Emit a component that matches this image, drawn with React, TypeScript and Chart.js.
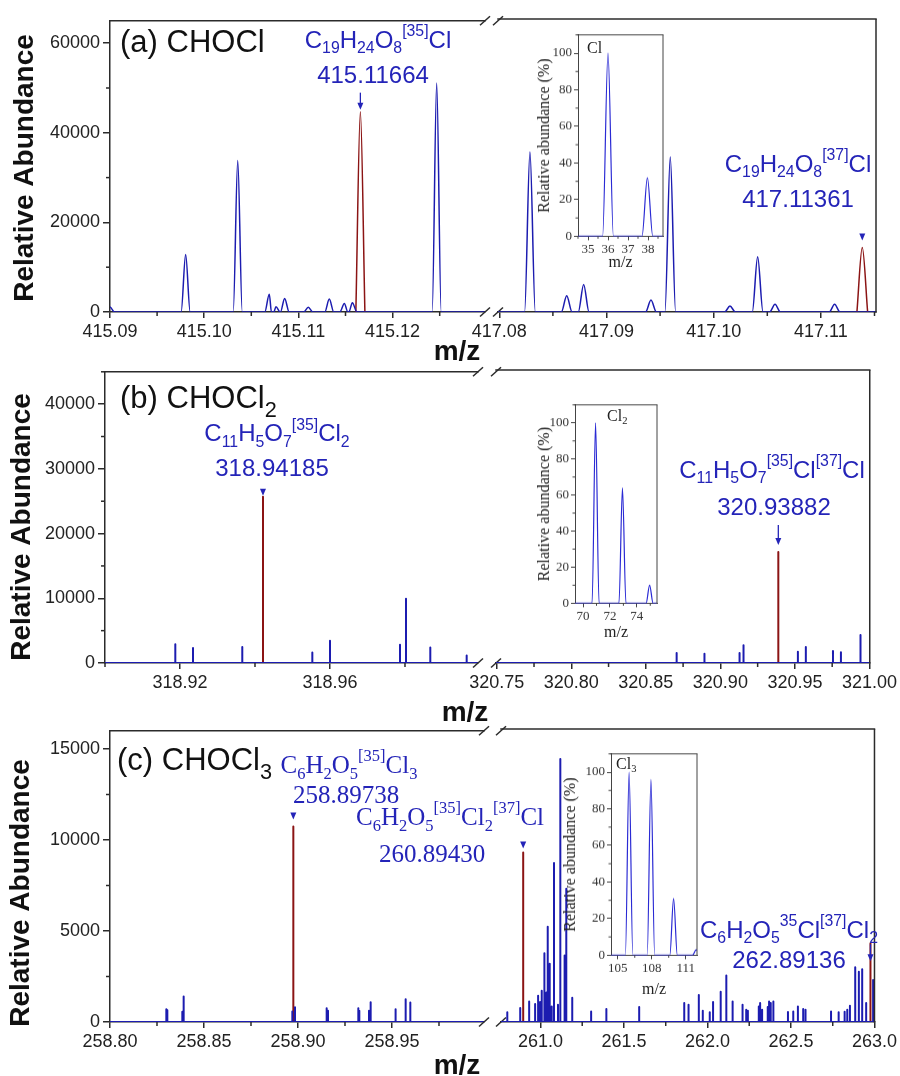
import React, { useEffect, useRef } from "react";
import { Chart, registerables } from "chart.js";
Chart.register(...registerables);

const SANS = '"Liberation Sans", Arial, Helvetica, sans-serif';
const SERIF = '"Liberation Serif", "Times New Roman", Times, serif';
const BLUE = "#1c1cb0";
const RED = "#8b1414";
const TXT_BLUE = "#2424b8";
const FRAME = "#2b2b2b";
const INSET_BLUE = "#2a2ad4";

// ---------------- DATA ----------------
// (a) CHOCl
const aLeftRange = [415.09, 415.12981];
const aLeftTicks = [415.09, 415.1, 415.11, 415.12];
const aLeftMz = [415.09, 415.09803, 415.10356, 415.10691, 415.10762, 415.10854, 415.11105, 415.11328, 415.11488, 415.11573, 415.12468];
const aLeftAb = [1100, 12840, 33800, 3985, 1180, 3026, 1033, 2878, 1919, 2066, 51140];
const aLeftTargetMz = [415.11658];
const aLeftTargetAb = [44720];
const aRightRange = [417.07988, 417.11514];
const aRightTicks = [417.08, 417.09, 417.1, 417.11];
const aRightMz = [417.08286, 417.08629, 417.08787, 417.09415, 417.09595, 417.10152, 417.1041, 417.10572, 417.11128];
const aRightAb = [35500, 3616, 6125, 2657, 34390, 1328, 12250, 1697, 1697];
const aRightTargetMz = [417.11386];
const aRightTargetAb = [14320];
const aYRange = [0, 65000];
const aYTicks = [0, 20000, 40000, 60000];

// (b) CHOCl2
const bLeftRange = [318.9, 318.99947];
const bLeftTicks = [318.92, 318.96];
const bLeftMz = [318.91875, 318.92347, 318.93661, 318.95529, 318.96, 318.97867, 318.98027, 318.98675, 318.99645];
const bLeftAb = [2916, 2300, 2455, 1637, 3427, 2813, 9923, 2404, 1176];
const bLeftTargetMz = [318.94213];
const bLeftTargetAb = [25680];
const bRightRange = [320.7495, 321.0002];
const bRightTicks = [320.75, 320.8, 320.85, 320.9, 320.95, 321.0];
const bRightMz = [320.87067, 320.88933, 320.91287, 320.91553, 320.952, 320.95733, 320.97553, 320.98087, 320.994];
const bRightAb = [1535, 1432, 1535, 2711, 1739, 2455, 1841, 1637, 4297];
const bRightTargetMz = [320.93887];
const bRightTargetAb = [17033];
const bYRange = [0, 45000];
const bYTicks = [0, 10000, 20000, 30000, 40000];

// (c) CHOCl3
const cLeftRange = [258.8, 258.99894];
const cLeftTicks = [258.8, 258.85, 258.9, 258.95];
const cLeftMz = [258.82996, 258.8305, 258.83847, 258.83918, 258.89699, 258.8984, 258.91525, 258.91596, 258.93209, 258.93262, 258.93777, 258.93865, 258.9516, 258.95213, 258.95727, 258.95975];
const cLeftAb = [707, 650, 562, 1397, 580, 816, 762, 620, 762, 620, 617, 1088, 707, 560, 1252, 1070];
const cLeftTargetMz = [258.89752];
const cLeftTargetAb = [10740];
const cRightRange = [260.7637, 263.0];
const cRightTicks = [261.0, 261.5, 262.0, 262.5, 263.0];
const cRightMz = [
  260.8014, 260.8788, 260.9323, 260.968, 260.9859, 260.9978, 261.0077, 261.0236, 261.0355, 261.0435,
  261.0554, 261.0673, 261.0811, 261.1049, 261.1189, 261.1446, 261.1546, 261.1903, 261.3034, 261.3946,
  261.5911, 261.8609, 261.8867, 261.9482, 261.972, 262.0137, 262.0335, 262.0792, 262.1129, 262.1506,
  262.2101, 262.232, 262.2419, 262.3073, 262.3153, 262.3272, 262.3609, 262.3689, 262.3788, 262.3946,
  262.482, 262.5137, 262.5415, 262.5732, 262.5871, 262.7399, 262.7855, 262.8213, 262.8371, 262.853,
  262.8847, 262.9065, 262.9264, 262.9502, 262.9918,
];
const cRightAb = [
  526, 762, 1125, 980, 1433, 1088, 1705, 3755, 1615, 5206,
  3175, 853, 8689, 943, 14367, 3628, 7274, 1324, 580, 707,
  816, 1034, 943, 1469, 617, 526, 1088, 1651, 2540, 1125,
  943, 671, 617, 853, 1034, 671, 816, 1125, 1034, 1125,
  544, 580, 853, 707, 671, 580, 526, 562, 671, 889,
  2993, 2739, 2884, 1034, 2300,
];
const cRightTargetMz = [260.8966, 262.976];
const cRightTargetAb = [9251, 4300];
const cYRange = [0, 16000];
const cYTicks = [0, 5000, 10000, 15000];

// insets (isotope patterns)
const insetYTicks = [0, 20, 40, 60, 80, 100];
const clTicks = [35, 36, 37, 38];
const clMz = [36.0, 37.97];
const clAb = [100, 32];
const cl2Ticks = [70, 72, 74];
const cl2Mz = [70.93, 72.93, 74.95];
const cl2Ab = [100, 64, 10];
const cl3Ticks = [105, 108, 111];
const cl3Mz = [106.0, 107.93, 109.93, 111.93];
const cl3Ab = [100, 96, 31, 3];

// ---------------- HELPERS ----------------
type Pt = { x: number; y: number };
function peakPoints(mz: number[], ab: number[], hw: number, lo?: number, hi?: number): Pt[] {
  const pts: Pt[] = [];
  mz.forEach((c, i) => {
    if (hw > 0) pts.push({ x: c - hw, y: 0 }, { x: c, y: ab[i] }, { x: c + hw, y: 0 });
    else pts.push({ x: c, y: 0 }, { x: c, y: ab[i] }, { x: c, y: 0 });
  });
  pts.sort((p, q) => p.x - q.x);
  if (lo !== undefined) pts.unshift({ x: lo, y: 0 });
  if (hi !== undefined) pts.push({ x: hi, y: 0 });
  return pts;
}

const fixTicks = (vals: number[]) => (sc: any) => {
  sc.ticks = vals.map((v) => ({ value: v }));
};

type Deco = {
  ox: number;
  oy: number;
  top?: boolean;
  right?: boolean;
  frameColor: string;
  frameW: number;
  xStep: number;
  xMinor: number;
  yStep?: number;
  yMinor?: number;
  minorLen: number;
  breakAt?: number[];
  arrows?: { x: number; y: number; gap: number; len: number }[];
  yTitle?: { text: string; x: number; y: number };
};

function isMajor(v: number, step: number) {
  return Math.abs(v / step - Math.round(v / step)) < 1e-6;
}

function decoPlugin(d: Deco) {
  return {
    id: "deco",
    afterDraw(chart: any) {
      const { ctx, chartArea: a, scales } = chart;
      const xs = scales.x;
      const ys = scales.y;
      ctx.save();
      ctx.strokeStyle = d.frameColor;
      ctx.lineWidth = d.frameW;
      const ln = (x1: number, y1: number, x2: number, y2: number) => {
        ctx.beginPath();
        ctx.moveTo(x1, y1);
        ctx.lineTo(x2, y2);
        ctx.stroke();
      };
      if (d.top) ln(a.left - d.frameW / 2, a.top, a.right + d.frameW / 2, a.top);
      if (d.right) ln(a.right, a.top, a.right, a.bottom + d.frameW / 2);
      {
        const k0 = Math.ceil(xs.min / d.xMinor - 1e-9);
        for (let k = k0; k * d.xMinor <= xs.max + 1e-9; k++) {
          const v = k * d.xMinor;
          if (isMajor(v, d.xStep)) continue;
          const px = xs.getPixelForValue(v);
          ln(px, a.bottom, px, a.bottom + d.minorLen);
        }
      }
      if (d.yMinor && d.yStep) {
        for (let v = d.yMinor; v <= ys.max + 1e-9; v += d.yMinor) {
          if (isMajor(v, d.yStep)) continue;
          const py = ys.getPixelForValue(v);
          ln(a.left, py, a.left - d.minorLen, py);
        }
      }
      if (d.breakAt) {
        for (const bxPage of d.breakAt) {
          const bx = bxPage - d.ox;
          for (const by of [a.top, a.bottom]) ln(bx - 5, by + 4.5, bx + 5, by - 4.5);
        }
      }
      if (d.arrows) {
        ctx.strokeStyle = TXT_BLUE;
        ctx.fillStyle = TXT_BLUE;
        ctx.lineWidth = 1.3;
        for (const ar of d.arrows) {
          const px = xs.getPixelForValue(ar.x);
          const tip = ys.getPixelForValue(ar.y) - ar.gap;
          if (ar.len > 7) ln(px, tip - ar.len, px, tip - 5);
          ctx.beginPath();
          ctx.moveTo(px - 3, tip - 7);
          ctx.lineTo(px + 3, tip - 7);
          ctx.lineTo(px, tip);
          ctx.closePath();
          ctx.fill();
        }
      }
      if (d.yTitle) {
        ctx.translate(d.yTitle.x - d.ox, d.yTitle.y - d.oy);
        ctx.rotate(-Math.PI / 2);
        ctx.font = `bold 28px ${SANS}`;
        ctx.fillStyle = "#111";
        ctx.textAlign = "center";
        ctx.textBaseline = "middle";
        ctx.fillText(d.yTitle.text, 0, 0);
      }
      ctx.restore();
    },
  };
}

type SegDef = {
  side: "left" | "right";
  top: number;
  bottom: number;
  l: number;
  r: number;
  range: number[];
  ticks: number[];
  step: number;
  minor: number;
  dec: number;
  yRange: number[];
  yTicks: number[];
  yStep: number;
  yMinor: number;
  mz: number[];
  ab: number[];
  tMz: number[];
  tAb: number[];
  hw: number;
  lw: number;
  breakAt?: number[];
  yTitle?: { x: number; y: number };
  arrows: { i: number; gap: number; len: number }[];
};

type Setup = { ox: number; oy: number; w: number; h: number; config: any };

function segSetup(s: SegDef): Setup {
  const isLeft = s.side === "left";
  const padL = isLeft ? 0 : 45;
  const padR = isLeft ? 30 : 900 - s.r;
  const padT = 12;
  const xH = 34;
  const ox = isLeft ? 0 : s.l - padL;
  const oy = s.top - padT;
  const w = isLeft ? s.r + padR : 900 - ox;
  const h = s.bottom - s.top + padT + xH;
  const tickFont = { family: SANS, size: 18 };
  const mode = s.hw > 0 ? "monotone" : "default";
  const config = {
    type: "line",
    data: {
      datasets: [
        {
          data: peakPoints(s.mz, s.ab, s.hw, s.range[0] - 1, s.range[1] + 1),
          borderColor: BLUE,
          borderWidth: s.lw,
          pointRadius: 0,
          fill: false,
          cubicInterpolationMode: mode,
          borderJoinStyle: "round",
        },
        {
          data: peakPoints(s.tMz, s.tAb, s.hw),
          borderColor: RED,
          borderWidth: s.lw,
          pointRadius: 0,
          fill: false,
          cubicInterpolationMode: mode,
          borderJoinStyle: "round",
        },
      ],
    },
    options: {
      animation: false,
      responsive: false,
      maintainAspectRatio: false,
      devicePixelRatio: 1,
      events: [],
      layout: { padding: { left: padL, right: padR, top: padT, bottom: 0 } },
      plugins: { legend: { display: false }, tooltip: { enabled: false } },
      scales: {
        x: {
          type: "linear",
          min: s.range[0],
          max: s.range[1],
          afterBuildTicks: fixTicks(s.ticks),
          ticks: {
            autoSkip: false,
            maxRotation: 0,
            font: tickFont,
            color: "#222",
            padding: 3,
            callback: (v: any) => Number(v).toFixed(s.dec),
          },
          grid: { drawOnChartArea: false, drawTicks: true, tickLength: 6, color: FRAME, lineWidth: 1.5 },
          border: { display: true, color: FRAME, width: 1.5 },
          afterFit: (sc: any) => {
            sc.height = xH;
          },
        },
        y: {
          display: isLeft,
          min: s.yRange[0],
          max: s.yRange[1],
          afterBuildTicks: fixTicks(s.yTicks),
          ticks: {
            font: tickFont,
            color: "#222",
            padding: 3,
            callback: (v: any) => String(v),
          },
          grid: { drawOnChartArea: false, drawTicks: true, tickLength: 7, color: FRAME, lineWidth: 1.5 },
          border: { display: true, color: FRAME, width: 1.5 },
          afterFit: (sc: any) => {
            sc.width = isLeft ? s.l : 0;
          },
        },
      },
    },
    plugins: [
      decoPlugin({
        ox,
        oy,
        top: true,
        right: !isLeft,
        frameColor: FRAME,
        frameW: 1.5,
        xStep: s.step,
        xMinor: s.minor,
        yStep: isLeft ? s.yStep : undefined,
        yMinor: isLeft ? s.yMinor : undefined,
        minorLen: 4,
        breakAt: s.breakAt,
        arrows: s.arrows.map((a) => ({ x: s.tMz[a.i], y: s.tAb[a.i], gap: a.gap, len: a.len })),
        yTitle: s.yTitle ? { text: "Relative Abundance", x: s.yTitle.x, y: s.yTitle.y } : undefined,
      }),
    ],
  };
  return { ox, oy, w, h, config };
}

type InsetDef = {
  L: number;
  T: number;
  R: number;
  B: number;
  range: number[];
  ticks: number[];
  step: number;
  minor: number;
  mz: number[];
  ab: number[];
  hw: number;
  yTitleX: number;
  xTitleMid: number;
};

function insetSetup(s: InsetDef): Setup {
  const yW = 50;
  const padT = 8;
  const padR = 8;
  const xH = s.xTitleMid - s.B + 12;
  const ox = s.L - yW;
  const oy = s.T - padT;
  const w = s.R - s.L + yW + padR;
  const h = s.B - s.T + padT + xH;
  const tickFont = { family: SERIF, size: 13 };
  const config = {
    type: "line",
    data: {
      datasets: [
        {
          data: peakPoints(s.mz, s.ab, s.hw, s.range[0] - 5, s.range[1] + 5),
          borderColor: INSET_BLUE,
          borderWidth: 1.2,
          pointRadius: 0,
          fill: false,
          cubicInterpolationMode: "monotone",
          borderJoinStyle: "round",
        },
      ],
    },
    options: {
      animation: false,
      responsive: false,
      maintainAspectRatio: false,
      devicePixelRatio: 1,
      events: [],
      layout: { padding: { left: 0, right: padR, top: padT, bottom: 0 } },
      plugins: { legend: { display: false }, tooltip: { enabled: false } },
      scales: {
        x: {
          type: "linear",
          min: s.range[0],
          max: s.range[1],
          afterBuildTicks: fixTicks(s.ticks),
          ticks: { autoSkip: false, maxRotation: 0, font: tickFont, color: "#333", padding: 1 },
          grid: { drawOnChartArea: false, tickLength: 4, color: "#444", lineWidth: 1 },
          border: { color: "#444", width: 1 },
          title: { display: true, text: "m/z", font: { family: SERIF, size: 16 }, color: "#222", padding: { top: 0, bottom: 2.4 } },
          afterFit: (sc: any) => {
            sc.height = xH;
          },
        },
        y: {
          min: 0,
          max: 110,
          afterBuildTicks: fixTicks(insetYTicks),
          ticks: { font: tickFont, color: "#333", padding: 2 },
          grid: { drawOnChartArea: false, tickLength: 4, color: "#444", lineWidth: 1 },
          border: { color: "#444", width: 1 },
          title: {
            display: true,
            text: "Relative abundance (%)",
            font: { family: SERIF, size: 16 },
            color: "#222",
            padding: { top: s.yTitleX - ox - 9.6, bottom: 0 },
          },
          afterFit: (sc: any) => {
            sc.width = yW;
          },
        },
      },
    },
    plugins: [
      decoPlugin({
        ox,
        oy,
        top: true,
        right: true,
        frameColor: "#444",
        frameW: 1,
        xStep: s.step,
        xMinor: s.minor,
        yStep: 20,
        yMinor: 10,
        minorLen: 2.5,
      }),
    ],
  };
  return { ox, oy, w, h, config };
}

// ---------------- LAYOUT ----------------
const SEGMENTS: SegDef[] = [
  {
    side: "left", top: 19, bottom: 312, l: 110, r: 485, range: aLeftRange, ticks: aLeftTicks, step: 0.01, minor: 0.005, dec: 2,
    yRange: aYRange, yTicks: aYTicks, yStep: 20000, yMinor: 10000, mz: aLeftMz, ab: aLeftAb, tMz: aLeftTargetMz, tAb: aLeftTargetAb,
    hw: 0.00048, lw: 1.5, breakAt: [485, 498], yTitle: { x: 25, y: 168 }, arrows: [{ i: 0, gap: 2, len: 17 }],
  },
  {
    side: "right", top: 19, bottom: 312, l: 498, r: 876, range: aRightRange, ticks: aRightTicks, step: 0.01, minor: 0.005, dec: 2,
    yRange: aYRange, yTicks: aYTicks, yStep: 20000, yMinor: 10000, mz: aRightMz, ab: aRightAb, tMz: aRightTargetMz, tAb: aRightTargetAb,
    hw: 0.0005, lw: 1.5, arrows: [{ i: 0, gap: 7, len: 7 }],
  },
  {
    side: "left", top: 370, bottom: 663, l: 105, r: 478, range: bLeftRange, ticks: bLeftTicks, step: 0.04, minor: 0.02, dec: 2,
    yRange: bYRange, yTicks: bYTicks, yStep: 10000, yMinor: 5000, mz: bLeftMz, ab: bLeftAb, tMz: bLeftTargetMz, tAb: bLeftTargetAb,
    hw: 0, lw: 2, breakAt: [478, 496], yTitle: { x: 22.5, y: 527 }, arrows: [{ i: 0, gap: 1, len: 7 }],
  },
  {
    side: "right", top: 370, bottom: 663, l: 496, r: 872, range: bRightRange, ticks: bRightTicks, step: 0.05, minor: 0.025, dec: 2,
    yRange: bYRange, yTicks: bYTicks, yStep: 10000, yMinor: 5000, mz: bRightMz, ab: bRightAb, tMz: bRightTargetMz, tAb: bRightTargetAb,
    hw: 0, lw: 2, arrows: [{ i: 0, gap: 7, len: 20 }],
  },
  {
    side: "left", top: 729, bottom: 1022, l: 110, r: 484, range: cLeftRange, ticks: cLeftTicks, step: 0.05, minor: 0.025, dec: 2,
    yRange: cYRange, yTicks: cYTicks, yStep: 5000, yMinor: 2500, mz: cLeftMz, ab: cLeftAb, tMz: cLeftTargetMz, tAb: cLeftTargetAb,
    hw: 0, lw: 2, breakAt: [484, 501], yTitle: { x: 21.7, y: 893 }, arrows: [{ i: 0, gap: 7, len: 7 }],
  },
  {
    side: "right", top: 729, bottom: 1022, l: 501, r: 876, range: cRightRange, ticks: cRightTicks, step: 0.5, minor: 0.25, dec: 1,
    yRange: cYRange, yTicks: cYTicks, yStep: 5000, yMinor: 2500, mz: cRightMz, ab: cRightAb, tMz: cRightTargetMz, tAb: cRightTargetAb,
    hw: 0, lw: 2, arrows: [{ i: 0, gap: 4, len: 7 }, { i: 1, gap: -18, len: 17 }],
  },
];

const INSETS: InsetDef[] = [
  { L: 578, T: 33, R: 663, B: 236, range: [34.5, 38.75], ticks: clTicks, step: 1, minor: 0.5, mz: clMz, ab: clAb, hw: 0.27, yTitleX: 545, xTitleMid: 262.6 },
  { L: 575, T: 403, R: 657, B: 603, range: [69.4, 75.5], ticks: cl2Ticks, step: 2, minor: 1, mz: cl2Mz, ab: cl2Ab, hw: 0.26, yTitleX: 545, xTitleMid: 632.6 },
  { L: 611, T: 752, R: 697, B: 955, range: [104.4, 112.0], ticks: cl3Ticks, step: 3, minor: 1.5, mz: cl3Mz, ab: cl3Ab, hw: 0.33, yTitleX: 571, xTitleMid: 989.6 },
];

function ChartCanvas({ setup }: { setup: Setup }) {
  const ref = useRef<HTMLCanvasElement>(null);
  useEffect(() => {
    const c = new Chart(ref.current as HTMLCanvasElement, setup.config);
    return () => c.destroy();
  }, [setup]);
  return (
    <canvas
      ref={ref}
      width={setup.w}
      height={setup.h}
      style={{ position: "absolute", left: setup.ox, top: setup.oy, width: setup.w, height: setup.h }}
    />
  );
}

const Sb = ({ children, k = 0.66, d = 0.33 }: any) => (
  <span style={{ fontSize: `${k}em`, position: "relative", top: `${d}em` }}>{children}</span>
);
const Sp = ({ children }: any) => (
  <span style={{ fontSize: "0.66em", position: "relative", top: "-0.75em" }}>{children}</span>
);

function Lbl({ x, base, size, font = SANS, color = TXT_BLUE, center = true, bold = false, children }: any) {
  const k = font === SERIF ? 0.8375 : 0.8465;
  return (
    <div
      style={{
        position: "absolute",
        left: x,
        top: base - size * k,
        fontFamily: font,
        fontSize: size,
        fontWeight: bold ? "bold" : "normal",
        lineHeight: 1,
        color,
        whiteSpace: "nowrap",
        transform: center ? "translateX(-50%)" : undefined,
      }}
    >
      {children}
    </div>
  );
}

const SEG_SETUPS = SEGMENTS.map(segSetup);
const INSET_SETUPS = INSETS.map(insetSetup);

export default function App() {
  return (
    <div style={{ position: "absolute", left: 0, top: 0, width: 900, height: 1076, overflow: "hidden", background: "#fff" }}>
      {SEG_SETUPS.map((s, i) => (
        <ChartCanvas key={"s" + i} setup={s} />
      ))}
      {INSET_SETUPS.map((s, i) => (
        <ChartCanvas key={"i" + i} setup={s} />
      ))}

      {/* axis titles */}
      <Lbl x={457} base={361} size={28} bold color="#111">m/z</Lbl>
      <Lbl x={465} base={721.7} size={28} bold color="#111">m/z</Lbl>
      <Lbl x={457} base={1074.5} size={28} bold color="#111">m/z</Lbl>

      {/* panel titles */}
      <Lbl x={120} base={52} size={31} color="#111" center={false}>(a) CHOCl</Lbl>
      <Lbl x={120} base={408} size={31} color="#111" center={false}>
        (b) CHOCl<Sb k={0.7} d={0.41}>2</Sb>
      </Lbl>
      <Lbl x={117} base={770} size={31} color="#111" center={false}>
        (c) CHOCl<Sb k={0.7} d={0.41}>3</Sb>
      </Lbl>

      {/* (a) annotations */}
      <Lbl x={378} base={48} size={24}>
        C<Sb>19</Sb>H<Sb>24</Sb>O<Sb>8</Sb><Sp>[35]</Sp>Cl
      </Lbl>
      <Lbl x={373} base={83} size={24}>415.11664</Lbl>
      <Lbl x={798} base={172} size={24}>
        C<Sb>19</Sb>H<Sb>24</Sb>O<Sb>8</Sb><Sp>[37]</Sp>Cl
      </Lbl>
      <Lbl x={798} base={207} size={24}>417.11361</Lbl>

      {/* (b) annotations */}
      <Lbl x={277} base={441.7} size={24}>
        C<Sb>11</Sb>H<Sb>5</Sb>O<Sb>7</Sb><Sp>[35]</Sp>Cl<Sb>2</Sb>
      </Lbl>
      <Lbl x={272} base={476} size={24}>318.94185</Lbl>
      <Lbl x={772} base={478} size={24}>
        C<Sb>11</Sb>H<Sb>5</Sb>O<Sb>7</Sb><Sp>[35]</Sp>Cl<Sp>[37]</Sp>Cl
      </Lbl>
      <Lbl x={774} base={515} size={24}>320.93882</Lbl>

      {/* (c) annotations */}
      <Lbl x={349} base={773} size={25} font={SERIF}>
        C<Sb>6</Sb>H<Sb>2</Sb>O<Sb>5</Sb><Sp>[35]</Sp>Cl<Sb>3</Sb>
      </Lbl>
      <Lbl x={346} base={803} size={25} font={SERIF}>258.89738</Lbl>
      <Lbl x={450} base={825} size={25} font={SERIF}>
        C<Sb>6</Sb>H<Sb>2</Sb>O<Sb>5</Sb><Sp>[35]</Sp>Cl<Sb>2</Sb><Sp>[37]</Sp>Cl
      </Lbl>
      <Lbl x={432} base={862} size={25} font={SERIF}>260.89430</Lbl>
      <Lbl x={789} base={938} size={24}>
        C<Sb>6</Sb>H<Sb>2</Sb>O<Sb>5</Sb><Sp>35</Sp>Cl<Sp>[37]</Sp>Cl<Sb>2</Sb>
      </Lbl>
      <Lbl x={789} base={968} size={24}>262.89136</Lbl>

      {/* inset labels */}
      <Lbl x={587} base={53} size={16} font={SERIF} color="#222" center={false}>Cl</Lbl>
      <Lbl x={607} base={421} size={16} font={SERIF} color="#222" center={false}>
        Cl<Sb>2</Sb>
      </Lbl>
      <Lbl x={616} base={769} size={16} font={SERIF} color="#222" center={false}>
        Cl<Sb>3</Sb>
      </Lbl>
    </div>
  );
}
